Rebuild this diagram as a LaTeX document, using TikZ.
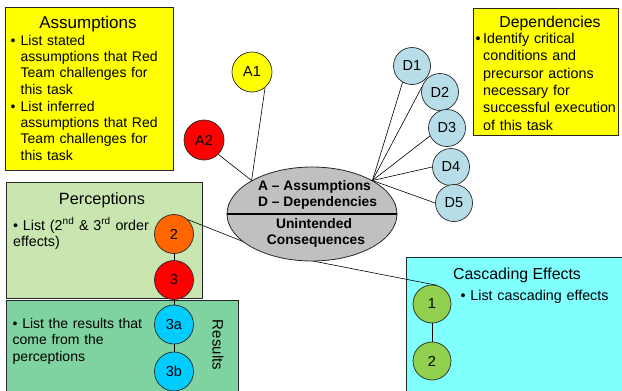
\documentclass[tikz,border=0pt]{standalone}
\usepackage{fontspec}
\setmainfont{Liberation Sans}
\usetikzlibrary{positioning,shapes}

\definecolor{noteyellow}{HTML}{FFFF00}
\definecolor{hotred}{HTML}{FF0000}
\definecolor{ordorange}{HTML}{FF6600}
\definecolor{rescyan}{HTML}{00CCFF}
\definecolor{depblue}{HTML}{B7DEE8}
\definecolor{casgreen}{HTML}{92D050}
\definecolor{percbg}{HTML}{C9E6B0}
\definecolor{resbg}{HTML}{7FD3A0}
\definecolor{casbg}{HTML}{80FFFF}
\definecolor{coregray}{HTML}{C0C0C0}

% bullet with hanging lines
\newcommand{\bitem}[2][10pt]{\noindent\makebox[#1][l]{\textbullet}\parbox[t]{150pt}{#2}}

\tikzset{
  panel/.style={draw=black!85, line width=0.9pt},
  bubble/.style={circle, draw=black!85, line width=0.7pt, minimum size=39pt, inner sep=0pt, font=\fontsize{14.5}{17}\selectfont},
  head/.style={anchor=base, inner sep=0pt, font=\fontsize{16.3}{19}\selectfont},
  notes/.style={anchor=base west, inner sep=0pt, text width=175pt, align=left, font=\fontsize{14.3}{16.6}\selectfont},
  keyfont/.style={inner sep=0pt, font=\bfseries\fontsize{13.8}{16.5}\selectfont},
  link/.style={line width=0.6pt},
}

\begin{document}
\begin{tikzpicture}[x=1pt,y=-1pt]
    \useasboundingbox (0,0) rectangle (622,391);

    % Assumptions panel
    \draw[panel, fill=noteyellow] (5,7) rectangle (173,170);
    \node[head, font=\fontsize{17}{19}\selectfont] (asmhead) at (88,28) {Assumptions};
    \node[notes, font=\fontsize{14}{16.4}\selectfont] (asmtxt1) at (10.5,45) {\bitem{List stated\\assumptions that Red\\Team challenges for\\this task}};
    \node[notes, font=\fontsize{14}{16.4}\selectfont] (asmtxt2) at (10.5,111) {\bitem{List inferred\\assumptions that Red\\Team challenges for\\this task}};

    % Dependencies panel
    \draw[panel, fill=noteyellow] (473,8) rectangle (618,135);
    \node[head, font=\fontsize{15.8}{19}\selectfont] (dephead) at (550,27) {Dependencies};
    \node[notes, font=\fontsize{14.3}{17.4}\selectfont] (deptxt) at (475.5,43.3) {\bitem[7.5pt]{Identify critical\\conditions and\\precursor actions\\necessary for\\successful execution\\of this task}};

    % Perceptions and results panels
    \draw[panel, fill=percbg] (6,182) rectangle (202,298);
    \node[head] (perchead) at (102,204) {Perceptions};
    \node[notes] (perctxt) at (13,230) {\textbullet\ List (2\textsuperscript{nd} \& 3\textsuperscript{rd} order\newline effects)};
    \draw[panel, fill=resbg] (6,300.5) rectangle (238,396);
    \node[notes, font=\fontsize{14}{16.8}\selectfont] (restxt) at (12.5,328) {\textbullet\ List the results that\newline come from the\newline perceptions};
    \node[inner sep=0pt, rotate=-90, font=\fontsize{15}{17}\selectfont] (reshead) at (218,345) {Results};

    % Cascading effects panel
    \draw[panel, fill=casbg] (406,257) rectangle (626,396);
    \node[head, font=\fontsize{15.9}{19}\selectfont] (cashead) at (517,279) {Cascading Effects};
    \node[notes] (castxt) at (460.5,300) {\textbullet\ List cascading effects};

    % Order chains
    \foreach \n/\y/\c in {2/234/ordorange, 3/280/hotred} {
        \node[bubble, fill=\c] (p\n) at (174,\y) {\n};
    }
    \foreach \n/\y in {3a/324.5, 3b/371.5} {
        \node[bubble, fill=rescyan] (r\n) at (174,\y) {\n};
    }
    \draw[link] (p2.south) -- (p3.north);
    \draw[link] (p3.south) -- (r3a.north);
    \draw[link] (r3a.south) -- (r3b.north);

    \node[bubble, minimum size=38pt, fill=casgreen] (c1) at (432,304) {1};
    \node[bubble, minimum size=38pt, fill=casgreen] (c2) at (432,361) {2};
    \draw[link] (c1.south) -- (c2.north);

    % Link from 2nd order effect to cascading effects (behind the core)
    \coordinate (hub) at (272,253);
    \draw[link] (p2.47) -- (hub) -- (c1.75);

    % Core ellipse
    \node[ellipse, draw=black!85, line width=0.8pt, fill=coregray, minimum width=170pt, minimum height=94pt, inner sep=0pt] (core) at (312,214) {};
    \draw[line width=1.2pt] (core.west) -- (core.east);
    \node[keyfont, anchor=base west] (keya) at (258,190) {A – Assumptions};
    \node[keyfont, anchor=base west] (keyd) at (258,206.5) {D – Dependencies};
    \node[keyfont, anchor=base] (uc1) at (314,228) {Unintended};
    \node[keyfont, anchor=base] (uc2) at (316,244) {Consequences};

    % Assumption bubbles
    \node[bubble, minimum size=40pt, fill=noteyellow] (a1) at (252,72) {A1};
    \node[bubble, minimum size=40pt, fill=hotred] (a2) at (204,140) {A2};
    \draw[link] (a1.-50) -- (core.151);
    \draw[link] (a2.-45) -- (core.151);

    % Dependency bubbles
    \foreach \n/\x/\y/\a in {1/412/66/-120, 2/440/92/165, 3/447/128/205, 4/451/167/180, 5/454/203/180} {
        \node[bubble, minimum size=37pt, fill=depblue] (d\n) at (\x,\y) {D\n};
        \draw[link] (core.29) -- (d\n.\a);
    }
\end{tikzpicture}
\end{document}
